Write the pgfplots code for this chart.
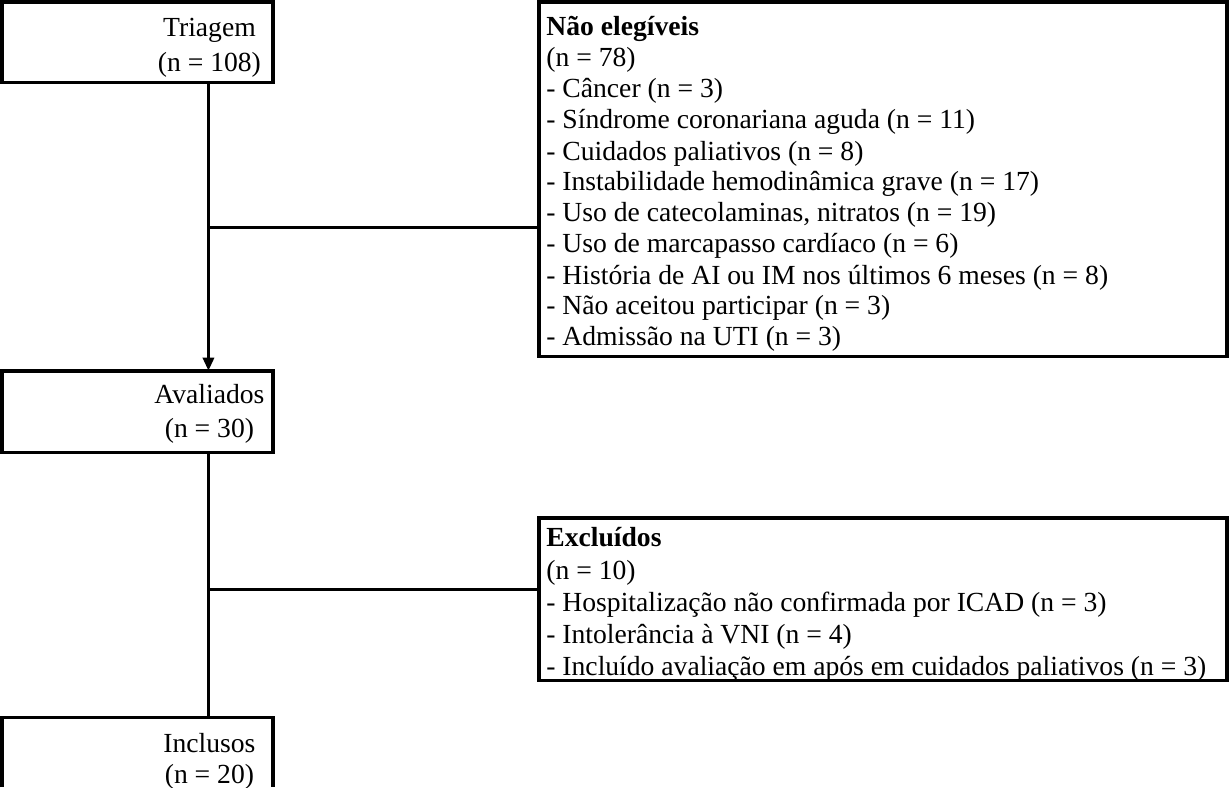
\documentclass[border=0pt]{standalone}
\usepackage{pgfplots}
\pgfplotsset{compat=1.18}
\usepackage{fontspec}
\setmainfont{Liberation Serif}
\usetikzlibrary{arrows.meta}
\tikzset{t/.style={font=\fontsize{27.5}{32}\selectfont,inner sep=0pt}}
\begin{document}
\begin{tikzpicture}
\begin{axis}[width=1229bp,height=791bp,scale only axis,
  xmin=0,xmax=1229,ymin=0,ymax=791,y dir=reverse,axis lines=none,clip=true]
% boxes
\addplot[black,line width=3.5bp,line cap=rect,line join=miter] coordinates {(11,12) (280,12) (280,92) (11,92) (11,12)};
\addplot[black,line width=3.5bp,line cap=rect,line join=miter] coordinates {(544,12) (1226.5,12) (1226.5,364) (544,364) (544,12)};
\addplot[black,line width=3.5bp,line cap=rect,line join=miter] coordinates {(11,378) (280,378) (280,459) (11,459) (11,378)};
\addplot[black,line width=3.5bp,line cap=rect,line join=miter] coordinates {(544,524) (1226.5,524) (1226.5,685) (544,685) (544,524)};
\addplot[black,line width=3.5bp,line cap=butt,line join=miter] coordinates {(11,791) (11,722) (280,722) (280,791)};
% connectors
\addplot[black,line width=3bp,-{Triangle[length=13bp,width=11bp]}] coordinates {(216,92) (216,378)};
\addplot[black,line width=3bp] coordinates {(216,236) (544,236)};
\addplot[black,line width=3bp] coordinates {(216,459) (216,722)};
\addplot[black,line width=3bp] coordinates {(216,595) (544,595)};
% left texts
\node[t,anchor=base] at (axis cs:217,46) {Triagem};
\node[t,anchor=base] at (axis cs:217,81) {(n = 108)};
\node[t,anchor=base] at (axis cs:217,410) {Avaliados};
\node[t,anchor=base] at (axis cs:217,444) {(n = 30)};
\node[t,anchor=base] at (axis cs:217,757) {Inclusos};
\node[t,anchor=base] at (axis cs:217,787) {(n = 20)};
% right top texts
\node[t,anchor=base west] at (axis cs:551,45) {\textbf{Não elegíveis}};
\node[t,anchor=base west] at (axis cs:551,76) {(n = 78)};
\node[t,anchor=base west] at (axis cs:551,107) {- Câncer (n = 3)};
\node[t,anchor=base west] at (axis cs:551,138) {- Síndrome coronariana aguda (n = 11)};
\node[t,anchor=base west] at (axis cs:551,169) {- Cuidados paliativos (n = 8)};
\node[t,anchor=base west] at (axis cs:551,199) {- Instabilidade hemodinâmica grave (n = 17)};
\node[t,anchor=base west] at (axis cs:551,230) {- Uso de catecolaminas, nitratos (n = 19)};
\node[t,anchor=base west] at (axis cs:551,261) {- Uso de marcapasso cardíaco (n = 6)};
\node[t,anchor=base west] at (axis cs:551,292) {- História de AI ou IM nos últimos 6 meses (n = 8)};
\node[t,anchor=base west] at (axis cs:551,322) {- Não aceitou participar (n = 3)};
\node[t,anchor=base west] at (axis cs:551,353) {- Admissão na UTI (n = 3)};
% second right box
\node[t,anchor=base west] at (axis cs:551,552) {\textbf{Excluídos}};
\node[t,anchor=base west] at (axis cs:551,585) {(n = 10)};
\node[t,anchor=base west] at (axis cs:551,617) {- Hospitalização não confirmada por ICAD (n = 3)};
\node[t,anchor=base west] at (axis cs:551,649) {- Intolerância à VNI (n = 4)};
\node[t,anchor=base west] at (axis cs:551,680) {- Incluído avaliação em após em cuidados paliativos (n = 3)};
\end{axis}
\end{tikzpicture}
\end{document}
